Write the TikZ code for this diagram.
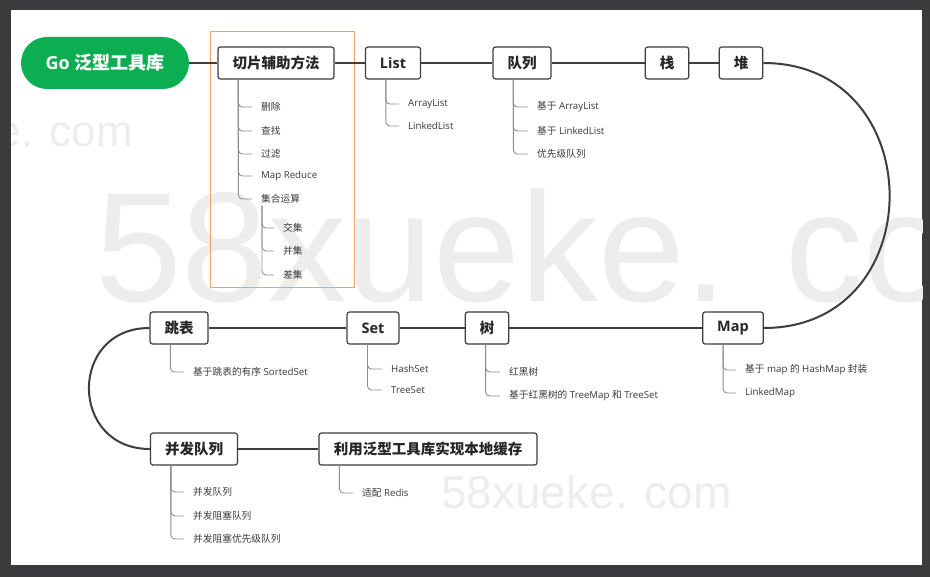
\documentclass[tikz,border=0pt]{standalone}
\usepackage{fontspec}
\setmainfont{Open Sans}
\newfontfamily\zh{Noto Sans CJK SC}
\newfontfamily\wm{Liberation Sans}
\definecolor{frame}{HTML}{3B3B3D}
\definecolor{trunk}{HTML}{3E3E3E}
\definecolor{twig}{HTML}{8E8E8E}
\definecolor{leafink}{HTML}{3A3A3A}
\definecolor{gogreen}{HTML}{0BAE50}
\definecolor{hilite}{HTML}{F6A25E}
\definecolor{wmgray}{HTML}{EDEDED}
\tikzset{
  topic/.style={draw=trunk, line width=1.2pt, rounded corners=2.5pt, fill=white,
    inner xsep=14.5pt, inner ysep=0pt, minimum height=32pt, text=black!85,
    font=\bfseries\fontsize{14.5}{17}\selectfont},
  leaf/.style={anchor=west, inner sep=0pt, text=leafink, font=\fontsize{9.7}{11}\selectfont},
  trunkline/.style={draw=trunk, line width=2pt},
  twigline/.style={draw=twig, line width=0.9pt, rounded corners=4pt},
  watermark/.style={anchor=base west, inner sep=0pt, text=wmgray}
}
\begin{document}
\begin{tikzpicture}[x=1pt,y=-1pt]
\useasboundingbox (0,0) rectangle (930,577);
\fill[frame] (0,0) rectangle (930,577);
\fill[white] (11,10) rectangle (922,565);
\begin{scope}
\clip (11,10) rectangle (922,565);
\node[watermark, font=\wm\fontsize{156}{160}\selectfont] (wmbig) at (95,302) {58xueke. com};
\node[watermark, anchor=base east, font=\wm\fontsize{44}{46}\selectfont] (wmtop) at (133,147) {58xueke. com};
\node[watermark, font=\wm\fontsize{46}{48}\selectfont] (wmlow) at (441,508) {58xueke. com};
\end{scope}
\draw[hilite, line width=1pt] (210,32) rectangle (354,288);

\node[fill=gogreen, rounded corners=26pt, minimum width=168pt, minimum height=52pt, inner sep=0pt,
  text=white, font=\bfseries\fontsize{18}{20}\selectfont] (go) at (105,63) {Go {\zh 泛型工具库}};
\node[topic] (cut) at (276,63) {\zh 切片辅助方法};
\node[topic] (list) at (393,63) {List};
\node[topic] (queue) at (522,63) {\zh 队列};
\node[topic] (stack) at (667,63) {\zh 栈};
\node[topic] (heap) at (741,63) {\zh 堆};
\node[topic] (map) at (733,328) {Map};
\node[topic] (tree) at (487,328) {\zh 树};
\node[topic] (set) at (373,328) {Set};
\node[topic] (skip) at (179,328) {\zh 跳表};
\node[topic] (conc) at (194,449) {\zh 并发队列};
\node[topic, minimum width=218pt] (cache) at (428,449) {\zh 利用泛型工具库实现本地缓存};

\draw[trunkline] (go) -- (cut) -- (list) -- (queue) -- (stack) -- (heap);
\draw[trunkline] (heap.east) .. controls +(168,0) and +(168,0) .. (map.east);
\draw[trunkline] (map) -- (tree) -- (set) -- (skip);
\draw[trunkline] (skip.west) .. controls +(-81,0) and +(-81,0) .. (conc.west);
\draw[trunkline] (conc) -- (cache);

\node[leaf] (del) at (261,107) {\zh 删除};
\node[leaf] (find) at (261,131) {\zh 查找};
\node[leaf] (filt) at (261,154) {\zh 过滤};
\node[leaf] (mapred) at (261,176) {Map Reduce};
\node[leaf] (setop) at (261,199) {\zh 集合运算};
\node[leaf] (inter) at (283,228) {\zh 交集};
\node[leaf] (union) at (283,251) {\zh 并集};
\node[leaf] (diff) at (283,275) {\zh 差集};
\node[leaf] (alist) at (408,104) {ArrayList};
\node[leaf] (llist) at (408,126) {LinkedList};
\node[leaf] (qarr) at (537,107) {{\zh 基于} ArrayList};
\node[leaf] (qlink) at (537,131) {{\zh 基于} LinkedList};
\node[leaf] (qprio) at (537,154) {\zh 优先级队列};
\node[leaf] (sorted) at (193,372) {{\zh 基于跳表的有序} SortedSet};
\node[leaf] (hset) at (391,369) {HashSet};
\node[leaf] (tset) at (391,390) {TreeSet};
\node[leaf] (rbt) at (509,372) {\zh 红黑树};
\node[leaf] (rbmap) at (509,396) {{\zh 基于红黑树的} TreeMap {\zh 和} TreeSet};
\node[leaf] (hmap) at (745,370) {{\zh 基于} map {\zh 的} HashMap {\zh 封装}};
\node[leaf] (lmap) at (745,393) {LinkedMap};
\node[leaf] (cq) at (193,492) {\zh 并发队列};
\node[leaf] (cbq) at (193,516) {\zh 并发阻塞队列};
\node[leaf] (cbpq) at (193,539) {\zh 并发阻塞优先级队列};
\node[leaf] (redis) at (362,493) {{\zh 适配} Redis};

\foreach \c in {del,find,filt,mapred,setop}
  \draw[twigline] ([xshift=21pt]cut.south west) |- ([xshift=-9pt]\c.west);
\foreach \c in {inter,union,diff}
  \draw[twigline] ([xshift=1pt,yshift=-2pt]setop.south west) |- ([xshift=-9pt]\c.west);
\foreach \c in {alist,llist}
  \draw[twigline] ([xshift=21pt]list.south west) |- ([xshift=-9pt]\c.west);
\foreach \c in {qarr,qlink,qprio}
  \draw[twigline] ([xshift=21pt]queue.south west) |- ([xshift=-9pt]\c.west);
\draw[twigline] ([xshift=21pt]skip.south west) |- ([xshift=-9pt]sorted.west);
\foreach \c in {hset,tset}
  \draw[twigline] ([xshift=21pt]set.south west) |- ([xshift=-9pt]\c.west);
\foreach \c in {rbt,rbmap}
  \draw[twigline] ([xshift=21pt]tree.south west) |- ([xshift=-9pt]\c.west);
\foreach \c in {hmap,lmap}
  \draw[twigline] ([xshift=21pt]map.south west) |- ([xshift=-9pt]\c.west);
\foreach \c in {cq,cbq,cbpq}
  \draw[twigline] ([xshift=21pt]conc.south west) |- ([xshift=-9pt]\c.west);
\draw[twigline] ([xshift=21pt]cache.south west) |- ([xshift=-9pt]redis.west);
\end{tikzpicture}
\end{document}
